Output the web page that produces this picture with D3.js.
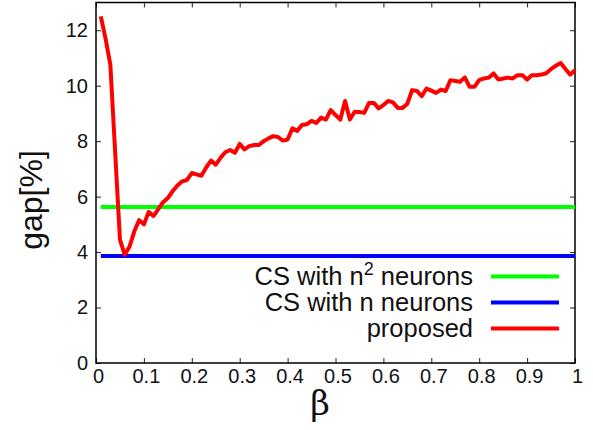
<!DOCTYPE html>
<html>
<head>
<meta charset="utf-8">
<script src="https://cdn.jsdelivr.net/npm/d3@7"></script>
<style>
  body { margin: 0; background: #fff; }
  text { font-family: "Liberation Sans", Arial, sans-serif; fill: #111; }
</style>
</head>
<body>
<div id="chart"></div>
<script>
// gap[%] vs beta

// beta values 0.01 .. 1.00
var betas = [
  0.01, 0.02, 0.03, 0.04, 0.05, 0.06, 0.07, 0.08, 0.09, 0.10,
  0.11, 0.12, 0.13, 0.14, 0.15, 0.16, 0.17, 0.18, 0.19, 0.20,
  0.21, 0.22, 0.23, 0.24, 0.25, 0.26, 0.27, 0.28, 0.29, 0.30,
  0.31, 0.32, 0.33, 0.34, 0.35, 0.36, 0.37, 0.38, 0.39, 0.40,
  0.41, 0.42, 0.43, 0.44, 0.45, 0.46, 0.47, 0.48, 0.49, 0.50,
  0.51, 0.52, 0.53, 0.54, 0.55, 0.56, 0.57, 0.58, 0.59, 0.60,
  0.61, 0.62, 0.63, 0.64, 0.65, 0.66, 0.67, 0.68, 0.69, 0.70,
  0.71, 0.72, 0.73, 0.74, 0.75, 0.76, 0.77, 0.78, 0.79, 0.80,
  0.81, 0.82, 0.83, 0.84, 0.85, 0.86, 0.87, 0.88, 0.89, 0.90,
  0.91, 0.92, 0.93, 0.94, 0.95, 0.96, 0.97, 0.98, 0.99, 1.00
];

// proposed method
var proposed = [
  12.5, 11.7, 10.75, 7.6, 4.45, 3.9, 4.2, 4.75, 5.15, 5.0,
  5.45, 5.3, 5.55, 5.8, 5.95, 6.2, 6.4, 6.55, 6.6, 6.85,
  6.8, 6.75, 7.05, 7.3, 7.15, 7.4, 7.6, 7.68, 7.58, 7.9,
  7.7, 7.82, 7.86, 7.86, 8.0, 8.1, 8.18, 8.15, 8.02, 8.06,
  8.46, 8.37, 8.58, 8.61, 8.73, 8.66, 8.85, 8.78, 9.12, 8.94,
  8.78, 9.45, 8.78, 9.06, 9.05, 9.02, 9.38, 9.38, 9.18, 9.3,
  9.45, 9.4, 9.2, 9.2, 9.35, 9.84, 9.81, 9.62, 9.9, 9.82,
  9.74, 9.86, 9.81, 10.2, 10.17, 10.14, 10.3, 9.96, 9.96, 10.2,
  10.26, 10.29, 10.44, 10.22, 10.26, 10.29, 10.26, 10.38, 10.38, 10.22,
  10.38, 10.38, 10.4, 10.45, 10.6, 10.72, 10.82, 10.6, 10.4, 10.56
];

// constant baselines
var csN2 = 5.63;  // CS with n^2 neurons
var csN = 3.86;   // CS with n neurons

var xTicks = [0, 0.1, 0.2, 0.3, 0.4, 0.5, 0.6, 0.7, 0.8, 0.9, 1];
var yTicks = [0, 2, 4, 6, 8, 10, 12];

var svgWidth = 593;
var svgHeight = 430;

var margin = { top: 2.5, right: 18, bottom: 67, left: 96 };
var width = svgWidth - margin.left - margin.right;
var height = svgHeight - margin.top - margin.bottom;

var svg = d3.select("#chart")
    .append("svg")
    .attr("width", svgWidth)
    .attr("height", svgHeight);

var g = svg.append("g")
    .attr("transform", `translate(${margin.left}, ${margin.top})`);

var xScale = d3.scaleLinear().domain([0, 1]).range([0, width]);
var yScale = d3.scaleLinear().domain([0, 13]).range([height, 0]);

// inward ticks on all four sides
var tickLen = 5;
function drawAxis(axis, transform) {
    var ax = g.append("g")
        .attr("transform", transform)
        .call(axis);
    ax.select(".domain").remove();
    ax.selectAll("line").attr("stroke", "#222").attr("stroke-width", 1);
    return ax;
}

var bottomAxis = drawAxis(
    d3.axisBottom(xScale).tickValues(xTicks).tickSizeInner(-tickLen).tickSizeOuter(0)
        .tickFormat(d => d === 0 || d === 1 ? d3.format("d")(d) : d3.format(".1f")(d)),
    `translate(0, ${height})`);
bottomAxis.selectAll("text")
    .attr("y", 19.5)
    .attr("dy", 0)
    .attr("x", 2)
    .style("font-size", "20px")
    .style("font-family", '"Liberation Sans", Arial, sans-serif')
    .attr("fill", "#111");

drawAxis(d3.axisTop(xScale).tickValues(xTicks).tickSizeInner(-tickLen).tickSizeOuter(0).tickFormat(""),
    "translate(0,0)");

var leftAxis = drawAxis(
    d3.axisLeft(yScale).tickValues(yTicks).tickSizeInner(-tickLen).tickSizeOuter(0),
    "translate(0,0)");
leftAxis.selectAll("text")
    .attr("x", -8)
    .attr("dy", "0.32em")
    .style("font-size", "20px")
    .style("font-family", '"Liberation Sans", Arial, sans-serif')
    .attr("fill", "#111");

drawAxis(d3.axisRight(yScale).tickValues(yTicks).tickSizeInner(-tickLen).tickSizeOuter(0).tickFormat(""),
    `translate(${width},0)`);

// frame
g.append("rect")
    .attr("x", 0)
    .attr("y", 0)
    .attr("width", width)
    .attr("height", height)
    .attr("fill", "none")
    .attr("stroke", "#000")
    .attr("stroke-width", 1.5);

// series
var lineGen = d3.line()
    .x(d => xScale(d[0]))
    .y(d => yScale(d[1]));

var firstBeta = betas[0];
var lastBeta = betas[betas.length - 1];

g.append("path")
    .datum([[firstBeta, csN2], [lastBeta, csN2]])
    .attr("d", lineGen)
    .attr("fill", "none")
    .attr("stroke", "#00ff00")
    .attr("stroke-width", 4);

g.append("path")
    .datum([[firstBeta, csN], [lastBeta, csN]])
    .attr("d", lineGen)
    .attr("fill", "none")
    .attr("stroke", "#0000ff")
    .attr("stroke-width", 4);

g.append("path")
    .datum(betas.map((b, i) => [b, proposed[i]]))
    .attr("d", lineGen)
    .attr("fill", "none")
    .attr("stroke", "#ff0000")
    .attr("stroke-width", 4)
    .attr("stroke-linejoin", "round");

// legend
var legendItems = [
    { label: "CS with n", sup: "2", rest: " neurons", color: "#00ff00" },
    { label: "CS with n neurons", color: "#0000ff" },
    { label: "proposed", color: "#ff0000" }
];

var legend = svg.append("g");
legendItems.forEach(function(item, i) {
    var cy = 276.5 + i * 26;
    var t = legend.append("text")
        .attr("x", 473)
        .attr("y", cy)
        .attr("dy", "0.35em")
        .attr("text-anchor", "end")
        .style("font-size", "25.5px");
    t.append("tspan").text(item.label);
    if (item.sup) {
        // raise and drop back by the same number of pixels
        t.append("tspan").attr("dy", -10).style("font-size", "18px").text(item.sup);
        t.append("tspan").attr("dy", 10).text(item.rest);
    }
    legend.append("line")
        .attr("x1", 491)
        .attr("x2", 559)
        .attr("y1", cy)
        .attr("y2", cy)
        .attr("stroke", item.color)
        .attr("stroke-width", 4);
});

// axis titles
svg.append("text")
    .attr("transform", "translate(42, 200) rotate(-90)")
    .attr("text-anchor", "middle")
    .style("font-size", "32px")
    .text("gap[%]");

svg.append("text")
    .attr("x", 320)
    .attr("y", 415)
    .attr("text-anchor", "middle")
    .style("font-family", '"DejaVu Serif", "Liberation Serif", serif')
    .style("font-size", "34px")
    .text("β");
</script>
</body>
</html>
